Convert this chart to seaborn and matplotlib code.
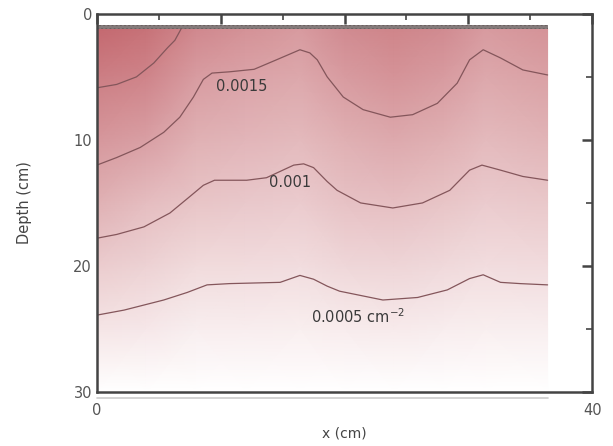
import numpy as np
import matplotlib
matplotlib.use("Agg")
import matplotlib.pyplot as plt
import seaborn as sns

# grid of the field (in cm^-2)
grid_x = [0, 4, 8, 12, 16.4, 20, 24, 28, 31.4, 36.4]
grid_depth = [1.2, 5, 10, 15, 20, 25, 30]
field = np.array([
    [2.40, 2.25, 1.90, 1.75, 1.60, 1.85, 1.95, 1.85, 1.60, 1.72],
    [2.07, 1.96, 1.58, 1.47, 1.39, 1.60, 1.72, 1.60, 1.39, 1.50],
    [1.66, 1.53, 1.25, 1.18, 1.11, 1.27, 1.38, 1.27, 1.11, 1.20],
    [1.25, 1.05, 0.93, 0.88, 0.83, 0.97, 1.03, 0.93, 0.83, 0.89],
    [0.82, 0.72, 0.59, 0.58, 0.54, 0.64, 0.68, 0.60, 0.54, 0.58],
    [0.42, 0.38, 0.28, 0.29, 0.27, 0.30, 0.33, 0.29, 0.27, 0.28],
    [0.00, 0.00, 0.00, 0.00, 0.00, 0.00, 0.00, 0.00, 0.00, 0.00],
]) * 1e-3

# contour lines
c2000_x = [0, 1.6, 3.2, 4.6, 5.7, 6.3, 6.8]
c2000_d = [5.87, 5.6, 5.0, 3.9, 2.7, 2.1, 1.2]

c1500_x = [0, 1.6, 3.5, 5.4, 6.7, 7.8, 8.6, 9.3, 10.7, 12.7, 14.5, 16.4, 17.2, 17.8,
           18.6, 19.9, 21.5, 23.7, 25.5, 27.5, 29.1, 30.1, 31.2, 32.6, 34.4, 36.4]
c1500_d = [12.0, 11.4, 10.6, 9.4, 8.2, 6.6, 5.2, 4.7, 4.6, 4.4, 3.65, 2.85, 3.1, 3.65,
           5.0, 6.6, 7.6, 8.2, 8.0, 7.1, 5.5, 3.65, 2.85, 3.5, 4.45, 4.85]

c1000_x = [0, 1.6, 3.8, 5.9, 7.5, 8.6, 9.5, 12.1, 13.7, 15.9, 16.7, 17.5, 18.6, 19.4,
           21.3, 23.9, 26.3, 28.5, 30.1, 31.1, 32.6, 34.4, 36.4]
c1000_d = [17.8, 17.5, 16.9, 15.8, 14.5, 13.6, 13.2, 13.2, 13.0, 12.0, 11.9, 12.2, 13.3, 14.0,
           15.0, 15.4, 15.0, 14.0, 12.4, 12.0, 12.4, 12.9, 13.2]

c500_x = [0, 2.2, 5.4, 7.3, 8.9, 10.7, 14.8, 16.4, 17.5, 18.6, 19.6, 23.1, 25.9, 28.3,
          30.1, 31.2, 32.6, 34.2, 36.4]
c500_d = [23.9, 23.5, 22.7, 22.1, 21.5, 21.4, 21.3, 20.75, 21.05, 21.6, 22.0, 22.7, 22.5, 21.9,
          21.0, 20.7, 21.3, 21.4, 21.5]

labels = ["0.0015", "0.001", "0.0005 cm$^{-2}$"]
label_x = [9.6, 13.9, 17.3]
label_d = [5.75, 13.35, 24.0]

band_top, band_bottom = 0.85, 1.2
x_max = 36.4

sns.set_style("white")
plt.rcParams["font.family"] = ["DejaVu Sans"]

cmap = sns.blend_palette(["#ffffff", "#c46970"], as_cmap=True)

fig = plt.figure(figsize=(6.13, 4.46), dpi=100)
ax = fig.add_axes([0.158, 0.121, 0.808, 0.848])

X, D = np.meshgrid(grid_x, grid_depth)
ax.pcolormesh(X, D, field, shading="gouraud", cmap=cmap, vmin=0, vmax=0.0024)

line_kw = dict(color="#84565b", lw=0.9, solid_joinstyle="round")
for xs, ds in [(c2000_x, c2000_d), (c1500_x, c1500_d), (c1000_x, c1000_d), (c500_x, c500_d)]:
    ax.plot(xs, ds, **line_kw)

for t, lx, ld in zip(labels, label_x, label_d):
    ax.text(lx, ld, t, fontsize=10.5, color="#3a3a3a", ha="left", va="center")

ax.fill_between([0, x_max], band_top, band_bottom, color="#857b7b",
                hatch="....", edgecolor="#6a6060", lw=0)

# faint shadow under the bottom axis
ax.plot([0, x_max], [30.45, 30.45], color="#cccccc", lw=1.2, clip_on=False)

ax.set_xlim(0, 40)
ax.set_ylim(30, 0)
ax.set_xticks([0, 10, 20, 30, 40])
ax.set_xticklabels(["0", "", "", "", "40"])
ax.set_xticks([5, 15, 25, 35], minor=True)
ax.set_yticks([0, 10, 20, 30])
ax.set_yticks([5, 15, 25], minor=True)

for s in ax.spines.values():
    s.set_color("#444444")
    s.set_linewidth(1.8)
ax.tick_params(which="both", direction="in", top=True, right=True,
               color="#444444", labelcolor="#555555", labelsize=10.5)
ax.tick_params(which="major", length=7, width=1.8)
ax.tick_params(which="minor", length=4, width=1.2)
ax.tick_params(axis="x", pad=8)

ax.set_xlabel("x (cm)", fontsize=10, color="#444444", labelpad=6)
ax.set_ylabel("Depth (cm)", fontsize=10.5, color="#444444", labelpad=30)

fig.savefig("out.png", dpi=100)
